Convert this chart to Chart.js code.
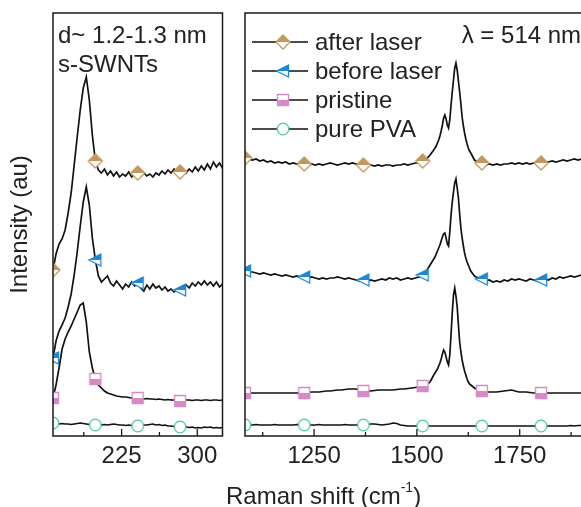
<!DOCTYPE html>
<html><head><meta charset="utf-8">
<script src="https://cdn.jsdelivr.net/npm/chart.js@4.4.1/dist/chart.umd.min.js"></script>
<style>
html,body{margin:0;padding:0;width:581px;height:507px;overflow:hidden;background:#fff;}
#wrap{position:relative;width:581px;height:507px;overflow:hidden;}
#cL{position:absolute;left:0;top:0;width:240px;height:507px;}
#cR{position:absolute;left:235px;top:0;width:380px;height:507px;}
#xtitle{position:absolute;left:226px;top:481px;font-size:24px;font-family:"Liberation Sans",Arial,Helvetica,sans-serif;color:#222;white-space:nowrap;line-height:30px;}
#xtitle sup{font-size:14px;position:relative;top:-12px;vertical-align:baseline;line-height:0;}
</style></head>
<body><div id="wrap">
<canvas id="cL" width="240" height="507"></canvas>
<canvas id="cR" width="380" height="507"></canvas>
<div id="xtitle">Raman shift (cm<sup>-1</sup>)</div>
</div>
<script>
// ---------- DATA ----------
const leftShift = [157,160,163,166,169,172,175,178,181,184,187,190,193,196,199,202,205,208,211,214,217,220,223,226,229,232,235,238,241,244,247,250,253,256,259,262,265,268,271,274,277,280,283,286,289,292,295,298,301,304,307,310,313,316,319,322,325];
const leftAfter = [166,182,192,197,206,223,243,271,299,326,348,359,336,301,275,266,263,267,261,265,260,264,259,262,260,264,259,262,263,260,263,260,262,259,263,261,265,262,266,263,267,264,264,267,263,267,264,269,265,270,266,272,267,274,269,273,268];
const leftBefore = [78,95,105,111,118,129,142,161,184,210,234,249,231,198,176,160,154,157,160,153,150,155,151,147,152,149,154,150,153,148,145,151,147,152,148,150,146,149,145,147,144,146,146,149,151,148,153,150,154,151,155,151,154,150,154,149,152];
const leftPristine = [38,51,68,87,97,104,110,117,124,131,133,114,84,68,57,51,48,45,43,42,41,40,39.5,39,39,38.5,38,38.5,38,37.5,37,37.5,37,37,36.5,37,36.5,36,36.5,36,36,35.5,35,35.5,36,36,35.5,36,36,35.5,36,36,35.5,36,36,35.5,36];
const leftPVA = [13,12.5,12,12.5,12,12,11.5,12,12.5,13,12.5,12,11.5,11,11,11,11,11.5,11,11.5,12,11.5,11,11,10.5,11,10.5,10,10,10.5,11,11,11.5,12,11,11.5,10.5,11,10,10,9.5,9.5,9,9,9,8.5,9,8,8.5,8,9,8.5,9,8,8.5,8,8.5];

const rightShift = [1082,1091,1100,1109,1118,1127,1136,1145,1154,1163,1172,1181,1190,1199,1208,1217,1226,1235,1244,1253,1262,1271,1280,1289,1298,1307,1316,1325,1334,1343,1352,1361,1370,1379,1388,1397,1406,1415,1424,1433,1442,1451,1460,1469,1478,1487,1496,1505,1514,1523,1532,
 1541,1544,1547,1550,1553,1556,1559,1562,1565,1568,1571,1574,1577,1580,1583,1586,1589,1592,1595,1598,1601,1604,1607,1610,1613,1616,1619,1622,1625,1628,1631,
 1640,1649,1658,1667,1676,1685,1694,1703,1712,1721,1730,1739,1748,1757,1766,1775,1784,1793,1802,1811,1820,1829,1838,1847,1856,1865,1874,1883,1892,1901,1910,1919,1928,1937,1946,1955];
const rightAfter = [278,277,276,277,275,276,274,275,273,274,273,274,272,273,272,273,272,271,272,271,272,271,272,273,272,271,272,273,272,273,272,271,271,272,271,270,271,270,271,271,270,271,271,272,271,272,273,273,275,277,281,
 286,288,290,293,296,300,305,311,318,321,317,311,308,316,331,344,356,368,373,366,355,344,332,319,310,303,297,292,288,285,283,
 276,274,273,271,272,271,272,271,272,272,273,272,273,272,273,272,273,273,273,274,274,275,274,275,276,275,276,277,276,277,276,277,276,277,276,277];
const rightBefore = [165,164,164,163,162,163,162,161,162,161,160,161,160,159,160,159,159,158,159,158,157,158,157,158,158,159,158,157,158,157,156,155,156,155,156,155,156,157,156,158,157,158,156,157,158,157,158,159,161,165,171,
 177,179,182,185,188,191,195,199,202,203,198,192,190,204,221,234,244,253,257,248,238,222,208,198,190,183,178,174,171,168,165,
 160,158,157,155,156,154,155,154,156,155,157,156,157,156,155,157,156,155,156,157,156,158,157,159,158,159,160,159,160,161,160,161,160,161,160,161];
const rightPristine = [43,43,43,43,43,43,43,43,43,43,43,43,43,43,43,43,43,43.5,44,44,44,44.5,45,45,45.5,46,46,46.5,47,47,47,46,45,45,45,45.5,46,46,46,46,46,46.5,47,47,47.5,48,48.5,49,50,51,54,
 61,63,65,67,70,73,77,82,86,84,79,74,71,81,101,123,141,148,140,129,111,94,84,76,70,65,61,57,54,52,51,
 48,46,45,44,44,44,44,44.5,45,45.5,46,45,44,44,44,43.5,43,43,43,43,43,43,43,43,43,43,43,43,43,43,43,43,43,43,43,43];
const rightPVA = [11,11,11,11.5,11,11,11,11,11.5,11,11,11,11,11,11.5,11,11,11,11,11,11.5,11,11,11,11,11,11,11.5,11,11,11,11,11,11.5,12,12,11.5,11,11.5,12,13,12.5,11,10.5,10,10,10,10,10,10,10,
 10,10,10,10,10,10,10,10,10,10,10,10,10,10,10,10,10,10,10,10,10,10,10,10,10,10,10,10,10,10,10,
 10,10,10,10,10,10,10,10,10,10,10,10,10,10,10,10,10,10,10,10,10,10,10,10,10,10,10.5,10,10.5,10.5,11,10.5,11,11,11,11];

const seriesNames = ['after laser','before laser','pristine','pure PVA'];
const leftTicksMajor = [225,300], leftTicksMinor = [187.5,262.5];
const rightTicksMajor = [1250,1500,1750], rightTicksMinor = [1125,1375,1625,1875];

// ---------- STYLE ----------
const FONT = '"Liberation Sans", Arial, Helvetica, sans-serif';
const TXT = '#222';
Chart.defaults.font.family = FONT;
Chart.defaults.color = TXT;

function makeMarker(kind, color, half) {
  const s = 18, m = 9;
  const c = document.createElement('canvas'); c.width = s; c.height = s;
  const g = c.getContext('2d');
  const path = () => {
    g.beginPath();
    if (kind === 'diamond') { g.moveTo(m, m-7); g.lineTo(m+7, m); g.lineTo(m, m+7); g.lineTo(m-7, m); g.closePath(); }
    else if (kind === 'triangle') { g.moveTo(m-6.5, m); g.lineTo(m+5.5, m-6); g.lineTo(m+5.5, m+6); g.closePath(); }
    else if (kind === 'square') { g.rect(m-5.5, m-5.5, 11, 11); }
    else { g.arc(m, m, 5.8, 0, Math.PI*2); }
  };
  path(); g.fillStyle = '#fff'; g.fill();
  if (half !== 'none') {
    g.save(); g.beginPath();
    if (half === 'top') g.rect(0, 0, s, m); else g.rect(0, m, s, m);
    g.clip(); path(); g.fillStyle = color; g.fill(); g.restore();
  }
  path(); g.lineWidth = 1.3; g.strokeStyle = color; g.stroke();
  return c;
}
const markerImgs = [
  makeMarker('diamond', '#c4975c', 'top'),
  makeMarker('triangle', '#1e88d4', 'top'),
  makeMarker('square', '#d68ac6', 'bottom'),
  makeMarker('circle', '#4ccb9a', 'none')
];

function buildDatasets(xs, ysList, isMarker) {
  return ysList.map((ys, k) => ({
    label: seriesNames[k],
    data: xs.map((x, i) => ({x: x, y: ys[i]})),
    borderColor: '#111', borderWidth: 1.7, tension: 0, fill: false, clip: 0,
    pointStyle: markerImgs[k],
    pointRadius: c => (c.raw && isMarker(c.raw.x)) ? 6 : 0,
    pointHoverRadius: 0, pointHitRadius: 0
  }));
}

function framePlugin(major, minor) {
  return {
    id: 'frame',
    afterDraw(chart) {
      const ctx = chart.ctx, a = chart.chartArea, x = chart.scales.x;
      ctx.save();
      ctx.strokeStyle = '#1a1a1a'; ctx.lineWidth = 1.5;
      ctx.strokeRect(a.left, a.top, a.right - a.left, a.bottom - a.top);
      ctx.lineWidth = 1.3;
      const tick = (v, len) => { const p = x.getPixelForValue(v); ctx.beginPath(); ctx.moveTo(p, a.bottom); ctx.lineTo(p, a.bottom - len); ctx.stroke(); };
      major.forEach(v => tick(v, 7));
      minor.forEach(v => tick(v, 4));
      ctx.restore();
    }
  };
}

function notesPlugin(texts, withLegend) {
  return {
    id: 'notes',
    afterDraw(chart) {
      const ctx = chart.ctx, a = chart.chartArea;
      ctx.save();
      ctx.fillStyle = TXT; ctx.font = '24px ' + FONT; ctx.textAlign = 'left'; ctx.textBaseline = 'alphabetic';
      texts.forEach(t => ctx.fillText(t.text, a.left + t.dx, t.y));
      if (withLegend) {
        seriesNames.forEach((name, i) => {
          const y = a.top + 29 + i * 29;
          ctx.strokeStyle = '#111'; ctx.lineWidth = 1.7;
          ctx.beginPath(); ctx.moveTo(a.left + 7, y); ctx.lineTo(a.left + 63, y); ctx.stroke();
          const img = markerImgs[i];
          ctx.drawImage(img, Math.round(a.left + 38) - img.width/2, y - img.height/2);
          ctx.fillStyle = TXT;
          ctx.fillText(name, a.left + 70, y + 7.5);
        });
      }
      ctx.restore();
    }
  };
}

const tickFont = {size: 24, family: FONT};
const plainTick = v => String(v);

new Chart(document.getElementById('cL'), {
  type: 'line',
  data: { datasets: buildDatasets(leftShift, [leftAfter, leftBefore, leftPristine, leftPVA],
      x => (x - leftShift[0]) % 42 === 0 && x < leftShift[leftShift.length - 1]) },
  options: {
    responsive: false, animation: false, events: [],
    layout: { padding: { left: 2, top: 13, right: 17.5, bottom: 0 } },
    plugins: { legend: { display: false }, tooltip: { enabled: false } },
    scales: {
      x: { type: 'linear', min: 157, max: 325,
           grid: { display: false, drawTicks: false }, border: { display: false },
           ticks: { font: tickFont, color: TXT, padding: 6, maxRotation: 0, callback: plainTick },
           afterBuildTicks: s => { s.ticks = leftTicksMajor.map(v => ({value: v})); },
           afterFit: s => { s.height = 71; } },
      y: { min: 0, max: 423, grid: { display: false }, border: { display: false },
           ticks: { display: false },
           title: { display: true, text: 'Intensity (au)', font: {size: 24, family: FONT}, color: TXT, padding: {top: 4, bottom: 4} },
           afterFit: s => { s.width = 51; } }
    }
  },
  plugins: [framePlugin(leftTicksMajor, leftTicksMinor),
            notesPlugin([{text: 'd~ 1.2-1.3 nm', dx: 5, y: 43}, {text: 's-SWNTs', dx: 5, y: 72}], false)]
});

new Chart(document.getElementById('cR'), {
  type: 'line',
  data: { datasets: buildDatasets(rightShift, [rightAfter, rightBefore, rightPristine, rightPVA],
      x => (x - rightShift[0]) % 144 === 0) },
  options: {
    responsive: false, animation: false, events: [],
    layout: { padding: { left: 10, top: 13, right: 11, bottom: 0 } },
    plugins: { legend: { display: false }, tooltip: { enabled: false } },
    scales: {
      x: { type: 'linear', min: 1082, max: 1955,
           grid: { display: false, drawTicks: false }, border: { display: false },
           ticks: { font: tickFont, color: TXT, padding: 6, maxRotation: 0, callback: plainTick },
           afterBuildTicks: s => { s.ticks = rightTicksMajor.map(v => ({value: v})); },
           afterFit: s => { s.height = 71; } },
      y: { display: false, min: 0, max: 423 }
    }
  },
  plugins: [framePlugin(rightTicksMajor, rightTicksMinor),
            notesPlugin([{text: 'λ = 514 nm', dx: 216.7, y: 43.3}], true)]
});
</script>
</body></html>
